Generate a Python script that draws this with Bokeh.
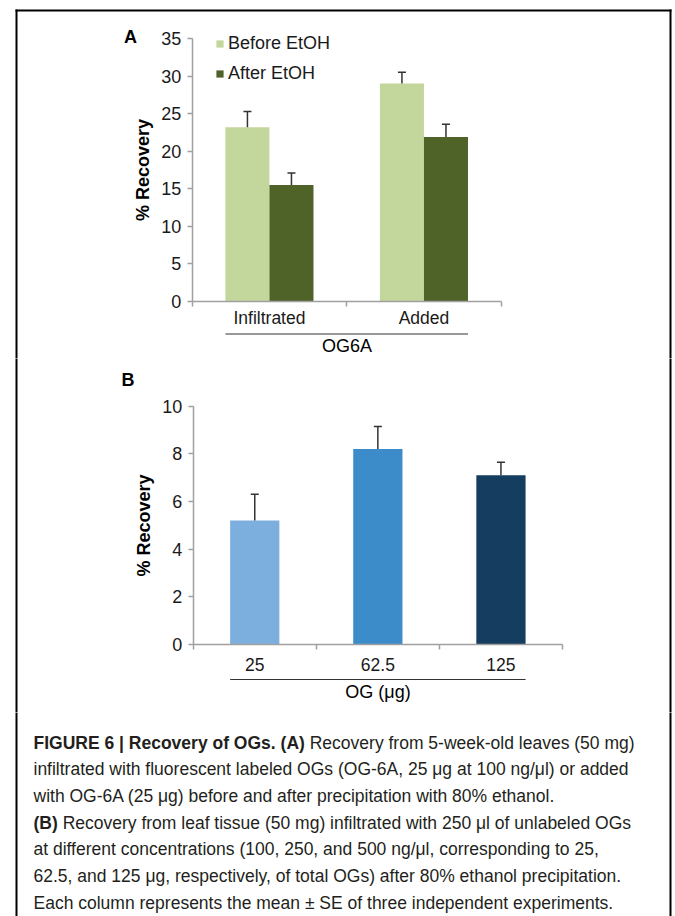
from bokeh.plotting import figure
from bokeh.models import (ColumnDataSource, Range1d, LinearAxis, FixedTicker,
                          Whisker, TeeHead, Legend, LegendItem)
from bokeh.layouts import column
from bokeh.embed import file_html
from bokeh.resources import INLINE
from bokeh.core.properties import value

# ---------------- data ----------------
groups_a = ["Infiltrated", "Added"]
series_a = ["Before EtOH", "After EtOH"]
before_a = [23.2, 29.0]
before_se_a = [2.1, 1.5]
after_a = [15.5, 21.9]
after_se_a = [1.6, 1.7]
yticks_a = [0, 5, 10, 15, 20, 25, 30, 35]
ylabel_a = "% Recovery"
group_title_a = "OG6A"

doses_b = ["25", "62.5", "125"]
recovery_b = [5.2, 8.2, 7.1]
se_b = [1.1, 0.95, 0.55]
yticks_b = [0, 2, 4, 6, 8, 10]
ylabel_b = "% Recovery"
group_title_b = "OG (μg)"

caption_bold = ["FIGURE 6 | Recovery of OGs. (A)", "", "", "(B)", "", "", ""]
caption_rest = [
    "Recovery from 5-week-old leaves (50 mg)",
    "infiltrated with fluorescent labeled OGs (OG-6A, 25 μg at 100 ng/μl) or added",
    "with OG-6A (25 μg) before and after precipitation with 80% ethanol.",
    "Recovery from leaf tissue (50 mg) infiltrated with 250 μl of unlabeled OGs",
    "at different concentrations (100, 250, and 500 ng/μl, corresponding to 25,",
    "62.5, and 125 μg, respectively, of total OGs) after 80% ethanol precipitation.",
    "Each column represents the mean ± SE of three independent experiments.",
]

# ---------------- styles ----------------
FONT = "Liberation Sans"
W = 672
HA, HB, HC = 358, 354, 204
GRAY = "#a0a0a0"
ERR = "#333333"
GREEN_LIGHT = "#C3D69B"
GREEN_DARK = "#4F6228"
BLUES = ["#7DAFDE", "#3B8CC8", "#143D5F"]
FRAME_L, FRAME_R, FRAME_T = 16, 670, 10

# Arial/Liberation Sans Bold advance widths (per 1000 em) for caption bold parts
BOLD_W = {' ': 278, '(': 333, ')': 333, '.': 278, '6': 556, 'A': 722, 'B': 722,
          'E': 667, 'F': 611, 'G': 778, 'I': 278, 'O': 778, 'R': 722, 'U': 722,
          'c': 556, 'e': 556, 'f': 333, 'o': 611, 'r': 389, 's': 556, 'v': 556,
          'y': 556, '|': 280}
SPACE_W = 278


def axis_range(pa, va, pb, vb, lo_px, hi_px):
    k = (vb - va) / (pb - pa)
    return Range1d(va + (lo_px - pa) * k, va + (hi_px - pa) * k)


def base_fig(H, xr, yr):
    p = figure(width=W, height=H, x_range=xr, y_range=yr, output_backend="svg",
               toolbar_location=None, x_axis_location=None, y_axis_location=None,
               min_border=0, outline_line_color=None,
               background_fill_color="white", border_fill_color="white")
    p.min_border_left = 0
    p.min_border_right = 0
    p.min_border_top = 0
    p.min_border_bottom = 0
    p.grid.visible = False
    p.extra_x_ranges = {"px": Range1d(0, W)}
    p.extra_y_ranges = {"px": Range1d(H, 0)}
    return p


def frame_lines(p, H, top=False):
    y_start = FRAME_T - 1 if top else -3
    p.segment(x0=[FRAME_L, FRAME_R], y0=[y_start, y_start], x1=[FRAME_L, FRAME_R],
              y1=[H + 3, H + 3], x_range_name="px", y_range_name="px",
              line_color="black", line_width=2)
    if top:
        p.segment(x0=[FRAME_L - 1], y0=[FRAME_T], x1=[FRAME_R + 1], y1=[FRAME_T],
                  x_range_name="px", y_range_name="px", line_color="black", line_width=2)


def add_yaxis(p, ticks, label):
    ax = LinearAxis(fixed_location=0, bounds=(ticks[0], ticks[-1]),
                    ticker=FixedTicker(ticks=ticks, minor_ticks=[]),
                    axis_label=label, axis_label_text_font=FONT,
                    axis_label_text_font_size="18px", axis_label_text_font_style="bold",
                    axis_label_text_color="black", axis_label_standoff=5,
                    major_label_text_font=FONT, major_label_text_font_size="18px",
                    major_label_text_color="#1a1a1a", major_label_standoff=6,
                    axis_line_color=GRAY, axis_line_width=1.5,
                    major_tick_line_color=GRAY, major_tick_line_width=1.5,
                    major_tick_in=0, major_tick_out=5, minor_tick_line_color=None)
    p.add_layout(ax, "left")


def add_xaxis(p, cats, title, standoff, title_standoff):
    n = len(cats)
    centers = [i + 0.5 for i in range(n)]
    ax = LinearAxis(fixed_location=0, bounds=(0, n),
                    ticker=FixedTicker(ticks=centers, minor_ticks=list(range(n + 1))),
                    major_label_overrides={c: lab for c, lab in zip(centers, cats)},
                    axis_label=title, axis_label_text_font=FONT,
                    axis_label_text_font_size="18px", axis_label_text_font_style="normal",
                    axis_label_text_color="black", axis_label_standoff=title_standoff,
                    major_label_text_font=FONT, major_label_text_font_size="17.5px",
                    major_label_text_color="#1a1a1a", major_label_standoff=standoff,
                    axis_line_color=GRAY, axis_line_width=1.5,
                    major_tick_in=0, major_tick_out=0, major_tick_line_color=None,
                    minor_tick_in=0, minor_tick_out=5,
                    minor_tick_line_color=GRAY, minor_tick_line_width=1.5)
    p.add_layout(ax, "below")


# ---------------- panel A ----------------
xa0, xa2 = 191.7, 500.7     # pixel of x=0 and x=2
ya0, ya35 = 301.0, 38.0      # pixel of y=0 and y=35
pa = base_fig(HA, axis_range(xa0, 0, xa2, 2, 0, W), axis_range(ya0, 0, ya35, 35, HA, 0))
frame_lines(pa, HA, top=True)

bw_a = 0.285
xs = [i + 0.5 for i in range(len(groups_a))]
src_before = ColumnDataSource(dict(x=[v - bw_a / 2 for v in xs], top=before_a,
                                   up=[t + e for t, e in zip(before_a, before_se_a)]))
src_after = ColumnDataSource(dict(x=[v + bw_a / 2 for v in xs], top=after_a,
                                  up=[t + e for t, e in zip(after_a, after_se_a)]))
r_before = pa.vbar(x="x", top="top", bottom=0, width=bw_a, source=src_before,
                   fill_color=GREEN_LIGHT, line_color=None)
r_after = pa.vbar(x="x", top="top", bottom=0, width=bw_a, source=src_after,
                  fill_color=GREEN_DARK, line_color=None)
for s in (src_before, src_after):
    pa.add_layout(Whisker(source=s, base="x", upper="up", lower="top", lower_head=None,
                          upper_head=TeeHead(size=8, line_color=ERR, line_width=1.5),
                          line_color=ERR, line_width=1.5, level="overlay"))

add_yaxis(pa, yticks_a, ylabel_a)
add_xaxis(pa, groups_a, group_title_a, standoff=1, title_standoff=5)

ppu_a = (ya0 - ya35) / 35.0
ul_a = -32.5 / ppu_a
pa.segment(x0=[xs[0] - bw_a], y0=[ul_a], x1=[xs[-1] + bw_a], y1=[ul_a],
           line_color="#333333", line_width=1)

legend_a = Legend(items=[LegendItem(label=series_a[0], renderers=[r_before]),
                         LegendItem(label=series_a[1], renderers=[r_after])],
                  location=(215, HA - 83.5), orientation="vertical",
                  border_line_color=None, background_fill_alpha=0,
                  padding=0, margin=0, spacing=9, glyph_width=9, glyph_height=9,
                  label_standoff=4, label_height=20, label_text_font=FONT,
                  label_text_font_size="18px", label_text_color="#1a1a1a")
pa.add_layout(legend_a)

pa.text(x=[130], y=[36.5], text=["A"], x_range_name="px", y_range_name="px",
        text_font=value(FONT), text_font_size="18px", text_font_style="bold",
        text_align="center", text_baseline="middle", text_color="black")

# ---------------- panel B ----------------
xb0, xb3 = 192.7, 562.0
yb0, yb10 = 286.0, 47.7
pb = base_fig(HB, axis_range(xb0, 0, xb3, 3, 0, W), axis_range(yb0, 0, yb10, 10, HB, 0))
frame_lines(pb, HB)

bw_b = 0.4
xsb = [i + 0.5 for i in range(len(doses_b))]
src_b = ColumnDataSource(dict(x=xsb, top=recovery_b, color=BLUES,
                              up=[t + e for t, e in zip(recovery_b, se_b)]))
pb.vbar(x="x", top="top", bottom=0, width=bw_b, source=src_b,
        fill_color="color", line_color=None)
pb.add_layout(Whisker(source=src_b, base="x", upper="up", lower="top", lower_head=None,
                      upper_head=TeeHead(size=8, line_color=ERR, line_width=1.5),
                      line_color=ERR, line_width=1.5, level="overlay"))

add_yaxis(pb, yticks_b, ylabel_b)
add_xaxis(pb, doses_b, group_title_b, standoff=8, title_standoff=8)

ppu_b = (yb0 - yb10) / 10.0
ul_b = -35 / ppu_b
pb.segment(x0=[xsb[0] - bw_b / 2], y0=[ul_b], x1=[xsb[-1] + bw_b / 2], y1=[ul_b],
           line_color="#333333", line_width=1)

pb.text(x=[127.5], y=[21.5], text=["B"], x_range_name="px", y_range_name="px",
        text_font=value(FONT), text_font_size="18px", text_font_style="bold",
        text_align="center", text_baseline="middle", text_color="black")

# ---------------- caption ----------------
pc = base_fig(HC, Range1d(0, W), Range1d(HC, 0))
frame_lines(pc, HC)
CAP_SIZE = 17.5
x_start = 33
y_first = 30
line_gap = 26.67
bx, by, bt, rx, ry, rt = [], [], [], [], [], []
for i, (b, r) in enumerate(zip(caption_bold, caption_rest)):
    y = y_first + i * line_gap
    off = 0.0
    if b:
        bx.append(x_start)
        by.append(y)
        bt.append(b)
        off = (sum(BOLD_W.get(ch, 556) for ch in b) + SPACE_W) / 1000.0 * CAP_SIZE
    rx.append(x_start + off)
    ry.append(y)
    rt.append(r)
pc.text(x=bx, y=by, text=bt, text_font=value(FONT), text_font_size=f"{CAP_SIZE}px",
        text_font_style="bold", text_align="left", text_baseline="middle",
        text_color="#231f20")
pc.text(x=rx, y=ry, text=rt, text_font=value(FONT), text_font_size=f"{CAP_SIZE}px",
        text_font_style="normal", text_align="left", text_baseline="middle",
        text_color="#231f20")

layout = column(pa, pb, pc, spacing=0)
open("out.html", "w").write(file_html(layout, INLINE))
